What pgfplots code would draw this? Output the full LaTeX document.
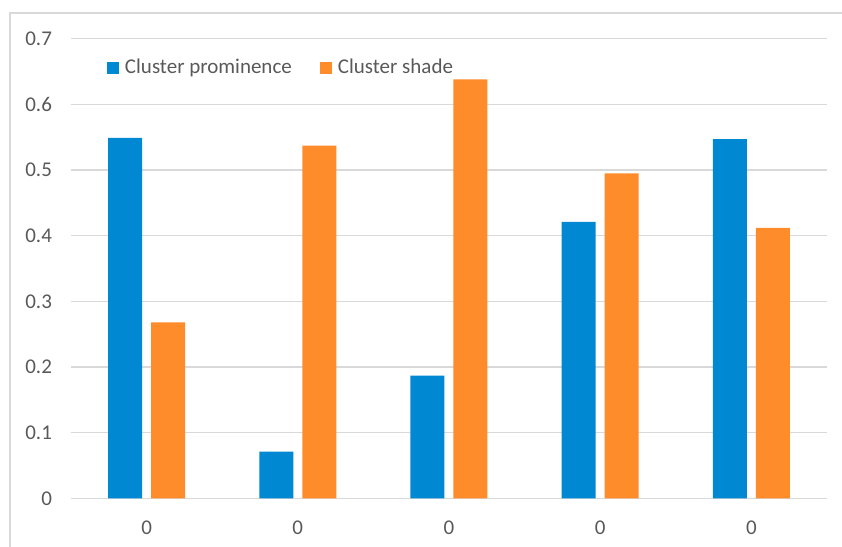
\documentclass[border=0pt]{standalone}
\usepackage{pgfplots}
\pgfplotsset{compat=1.18}
\usepackage{fontspec}
\setmainfont{Carlito}
\definecolor{barblue}{RGB}{0,136,210}
\definecolor{barorange}{RGB}{255,140,42}
\definecolor{gridgray}{RGB}{217,217,217}
\definecolor{labelgray}{RGB}{89,89,89}

\begin{document}
\begin{tikzpicture}
\useasboundingbox (0,0) rectangle (421pt,-273.5pt);
% chart area border (left and top edges)
\draw[gridgray, line width=0.7pt] (5pt,-273.5pt) -- (5pt,-6.5pt) -- (421pt,-6.5pt);
\begin{axis}[
  at={(35.5pt,-249.15pt)}, anchor=south west,
  scale only axis, width=378pt, height=229.8pt,
  xmin=-0.5, xmax=4.5, ymin=0, ymax=0.7,
  axis line style={draw=none},
  major tick length=0pt,
  ytick={0,0.1,0.2,0.3,0.4,0.5,0.6,0.7},
  ymajorgrids, grid style={gridgray, line width=0.65pt},
  xtick={0,1,2,3,4}, xticklabels={0,0,0,0,0},
  tick label style={font=\fontsize{10.5}{12}\selectfont, text=labelgray},
  yticklabel style={xshift=-6pt},
  xticklabel style={yshift=-7.5pt},
  /pgf/number format/.cd, fixed, precision=1, assume math mode=true,
  /pgfplots/.cd,
  legend columns=2,
  legend image code/.code={\fill[#1] (0pt,-3pt) rectangle (6pt,3pt);},
  legend style={at={(rel axis cs:0.0476,0.936)}, anchor=west,
    draw=none, fill=none, inner sep=0pt, outer sep=0pt,
    nodes={inner sep=0pt, anchor=west, font=\fontsize{10.5}{12}\selectfont, text=labelgray},
    /tikz/every odd column/.append style={column sep=3pt},
    /tikz/every even column/.append style={column sep=14pt}},
]
\addplot[ybar, bar width=17pt, bar shift=-10.75pt, fill=barblue, draw=none]
  coordinates {(0,0.549) (1,0.071) (2,0.187) (3,0.421) (4,0.547)};
\addlegendentry{Cluster prominence}
\addplot[ybar, bar width=17pt, bar shift=10.75pt, fill=barorange, draw=none]
  coordinates {(0,0.268) (1,0.537) (2,0.638) (3,0.495) (4,0.412)};
\addlegendentry{Cluster shade}
\end{axis}
\end{tikzpicture}
\end{document}
